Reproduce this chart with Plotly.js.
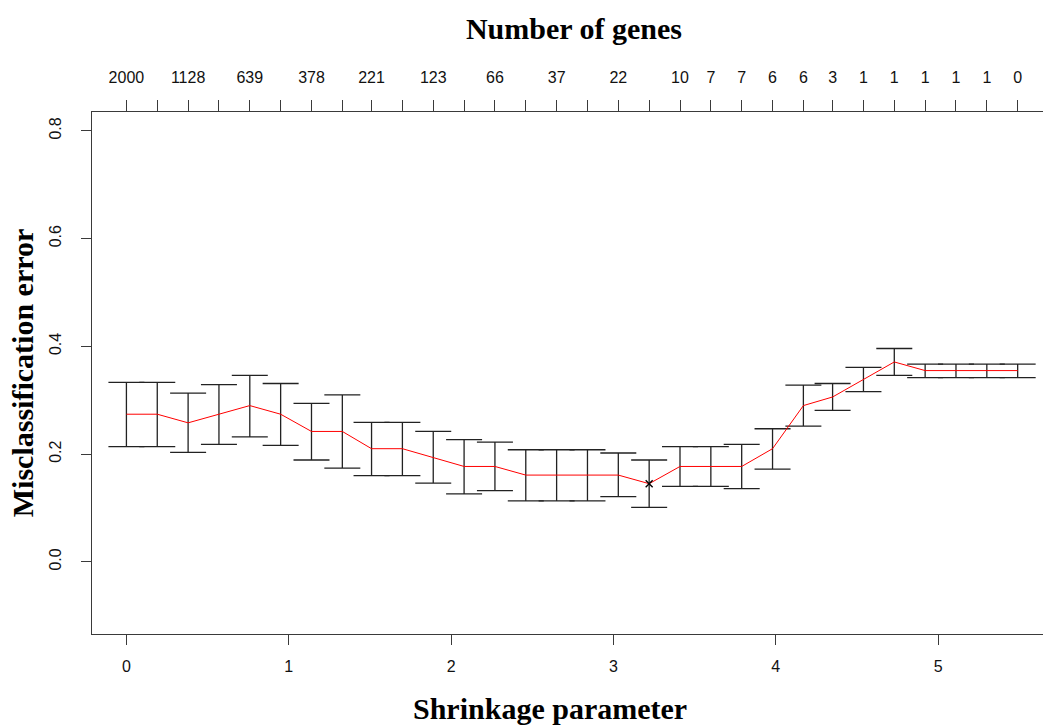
<!DOCTYPE html>
<html>
<head>
<meta charset="utf-8">
<script src="https://cdn.plot.ly/plotly-3.0.1.min.js"></script>
<style>html,body{margin:0;padding:0;background:#fff;overflow:hidden}</style>
</head>
<body>
<div id="chart" style="width:1043px;height:726px"></div>
<script>
// Shrinkage thresholds (x)
const threshold = [0, 0.19, 0.38, 0.57, 0.76, 0.95, 1.14, 1.33, 1.51, 1.70,
  1.89, 2.08, 2.27, 2.46, 2.65, 2.84, 3.03, 3.22, 3.41, 3.60,
  3.79, 3.98, 4.17, 4.35, 4.54, 4.73, 4.92, 5.11, 5.30, 5.49];
// Mean misclassification error
const errMean = [0.274, 0.274, 0.258, 0.274, 0.290, 0.274, 0.242, 0.242, 0.210, 0.210,
  0.194, 0.177, 0.177, 0.161, 0.161, 0.161, 0.161, 0.145, 0.177, 0.177,
  0.177, 0.210, 0.290, 0.306, 0.339, 0.371, 0.355, 0.355, 0.355, 0.355];
// Upper ends of the error bars
const errUpper = [0.333, 0.333, 0.313, 0.329, 0.346, 0.331, 0.294, 0.310, 0.259, 0.259,
  0.242, 0.227, 0.222, 0.208, 0.208, 0.208, 0.202, 0.189, 0.214, 0.214,
  0.218, 0.247, 0.328, 0.331, 0.361, 0.396, 0.367, 0.367, 0.367, 0.367];
// Lower ends of the error bars
const errLower = [0.214, 0.214, 0.203, 0.218, 0.232, 0.216, 0.189, 0.174, 0.160, 0.160,
  0.146, 0.126, 0.132, 0.113, 0.113, 0.113, 0.121, 0.101, 0.140, 0.140,
  0.136, 0.172, 0.252, 0.281, 0.316, 0.346, 0.342, 0.342, 0.342, 0.342];
// Number of genes (top axis labels; blank where not printed)
const geneLabels = ['2000','','1128','','639','','378','','221','','123','','66','','37','','22','',
  '10','7','7','6','6','3','1','1','1','1','1','0'];
const xTicks = [0, 1, 2, 3, 4, 5];
const yTicks = [0, 0.2, 0.4, 0.6, 0.8];
const minIndex = [17];

const plus = errUpper.map((u, i) => u - errMean[i]);
const minus = errLower.map((l, i) => errMean[i] - l);

const xr = [-0.212, 5.646];
const axisCol = '#3a3a3a';
const tickFont = {family: 'Liberation Sans, Arial, sans-serif', size: 16, color: '#111'};
const titleFont = {family: 'Liberation Serif, Times New Roman, serif', size: 30, color: '#000', weight: 'bold'};

const traces = [
  {
    x: threshold, y: errMean, type: 'scatter', mode: 'markers',
    marker: {size: 1, color: 'rgba(0,0,0,0)'},
    error_y: {type: 'data', symmetric: false, array: plus, arrayminus: minus,
      color: '#222', thickness: 1.3, width: 18},
    hoverinfo: 'skip'
  },
  {
    x: threshold, y: errMean, type: 'scatter', mode: 'lines',
    line: {color: '#ff0000', width: 1}
  },
  {
    x: minIndex.map(i => threshold[i]), y: minIndex.map(i => errMean[i]),
    type: 'scatter', mode: 'markers', xaxis: 'x2',
    marker: {symbol: 'x-thin-open', size: 7, color: '#000', line: {width: 1.4, color: '#000'}}
  }
];

const layout = {
  width: 1043, height: 726,
  margin: {l: 92, r: 0, t: 112, b: 92},
  paper_bgcolor: '#fff', plot_bgcolor: '#fff',
  showlegend: false,
  title: {
    text: 'Number of genes', font: titleFont,
    xref: 'container', yref: 'container', x: 574 / 1043, y: 1 - 28 / 726,
    xanchor: 'center', yanchor: 'middle'
  },
  xaxis: {
    range: xr, tickvals: xTicks, ticktext: xTicks.map(String),
    ticks: 'outside', ticklen: 10, tickwidth: 1, tickcolor: axisCol,
    showline: true, linecolor: axisCol, linewidth: 1.2,
    showgrid: false, zeroline: false, tickfont: tickFont, ticklabelstandoff: 8
  },
  xaxis2: {
    overlaying: 'x', side: 'top', range: xr,
    tickvals: threshold, ticktext: geneLabels, tickmode: 'array',
    ticks: 'outside', ticklen: 11, tickwidth: 1, tickcolor: axisCol,
    showline: true, linecolor: axisCol, linewidth: 1.2,
    showgrid: false, zeroline: false,
    tickfont: {family: 'Liberation Sans, Arial, sans-serif', size: 16, color: '#111'},
    ticklabelstandoff: 10
  },
  yaxis: {
    range: [-0.134, 0.835], tickvals: yTicks, tickformat: '.1f', tickangle: -90,
    ticks: 'outside', ticklen: 10, tickwidth: 1, tickcolor: axisCol,
    showline: true, linecolor: axisCol, linewidth: 1.2,
    showgrid: false, zeroline: false, tickfont: tickFont, ticklabelstandoff: 13,
    title: {text: 'Misclassification error', font: titleFont, standoff: 5}
  },
  annotations: [
    {
      text: 'Shrinkage parameter', font: titleFont, showarrow: false,
      xref: 'paper', yref: 'paper', x: (550 - 92) / 951, y: -(708 - 634) / 522,
      xanchor: 'center', yanchor: 'middle'
    }
  ]
};

Plotly.newPlot('chart', traces, layout, {displayModeBar: false, staticPlot: true});
</script>
</body>
</html>
